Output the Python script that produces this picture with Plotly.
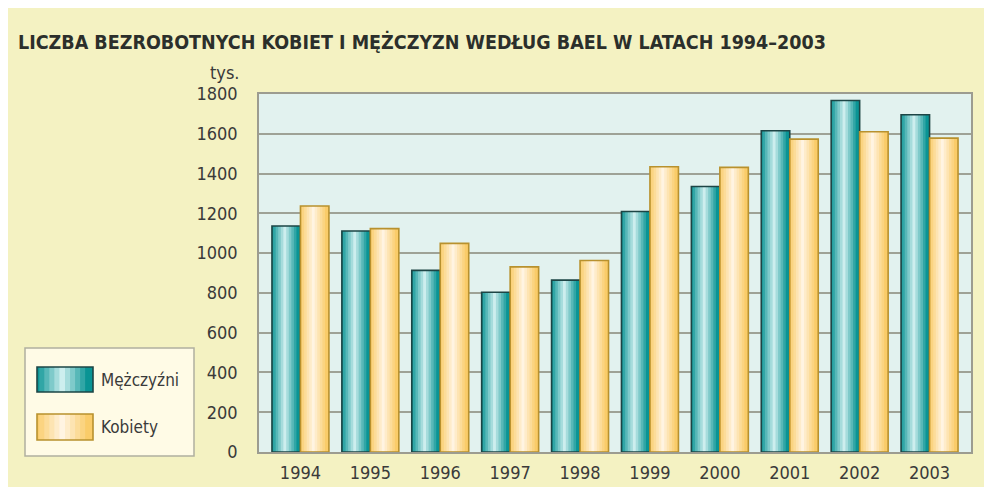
import plotly.graph_objects as go

years = ["1994", "1995", "1996", "1997", "1998", "1999", "2000", "2001", "2002", "2003"]
men = [1136, 1111, 913, 803, 864, 1209, 1335, 1615, 1767, 1696]
women = [1237, 1123, 1049, 931, 963, 1434, 1431, 1573, 1610, 1578]
series_names = ["Mężczyźni", "Kobiety"]
y_ticks = [0, 200, 400, 600, 800, 1000, 1200, 1400, 1600, 1800]

FONT = "DejaVu Sans Condensed, Liberation Sans Narrow, Arial Narrow, sans-serif"
OFF = 8  # page body margin
W, H = 992 - OFF, 487 - OFF
ML = 259 - OFF
MT = 94 - OFF
PW, PH = 712, 358
MR = W - ML - PW
MB = H - MT - PH

teal = dict(edge=(10, 148, 148), light=(205, 238, 238), line="#1d4545")
gold = dict(edge=(250, 204, 105), light=(255, 244, 226), line="#b8912e")


def mix(a, b, t):
    return "rgb(%d,%d,%d)" % tuple(round(a[i] + (b[i] - a[i]) * t) for i in range(3))


x_idx = list(range(len(years)))
BW = 0.4075
fig = go.Figure()

levels = [0.0, 0.2, 0.4, 0.6, 0.8, 1.0]
for vals, pal, off in [(men, teal, -BW), (women, gold, 0.0)]:
    for t in levels:
        frac = 1.0 - 0.9 * t
        w = BW * frac
        center = off + BW * 0.45
        o = center - w / 2
        o = max(off, min(o, off + BW - w))
        fig.add_trace(go.Bar(
            x=x_idx, y=vals, width=[w] * len(x_idx), offset=[o] * len(x_idx),
            marker=dict(color=mix(pal["edge"], pal["light"], t), line=dict(width=0)),
            hoverinfo="skip", showlegend=False))
    fig.add_trace(go.Bar(
        x=x_idx, y=vals, width=[BW] * len(x_idx), offset=[off] * len(x_idx),
        marker=dict(color="rgba(0,0,0,0)", line=dict(width=1.6, color=pal["line"])),
        hoverinfo="skip", showlegend=False))

fig.update_layout(
    width=W, height=H, autosize=False,
    margin=dict(l=ML, r=MR, t=MT, b=MB, pad=0, autoexpand=False),
    paper_bgcolor="#f4f2c2",
    plot_bgcolor="#e2f2ef",
    barmode="overlay",
    font=dict(family=FONT, color="#3a3a3a"),
    title=dict(
        text="<b>LICZBA BEZROBOTNYCH KOBIET I MĘŻCZYZN WEDŁUG BAEL W LATACH 1994–2003</b>",
        x=(18 - OFF) / W, xanchor="left", y=1 - (42 - OFF) / H, yanchor="middle",
        automargin=False,
        font=dict(family=FONT, size=19.5, color="#2b2f2b")),
    xaxis=dict(
        range=[-0.593, len(years) - 1 + 0.593], tickvals=x_idx, ticktext=years,
        showgrid=False, zeroline=False, showline=True, mirror=True, automargin=False,
        linecolor="#9c9c90", linewidth=1.5, ticks="", ticklabelstandoff=4,
        tickfont=dict(size=18, color="#3a3a3a")),
    yaxis=dict(
        range=[0, 1800], tickvals=y_ticks, showgrid=True, gridcolor="#9ea296",
        gridwidth=1.5, zeroline=False, showline=True, mirror=True, automargin=False,
        linecolor="#9c9c90", linewidth=1.5, ticks="", ticklabelstandoff=16,
        tickfont=dict(size=18, color="#3a3a3a")),
    showlegend=False,
)


def px(xr):
    return (xr - OFF - ML) / PW


def py(yr):
    return (MT + PH - (yr - OFF)) / PH


shapes = []
shapes.append(dict(type="rect", xref="paper", yref="paper", x0=px(25), x1=px(194),
                   y0=py(456), y1=py(348), fillcolor="#fffbe6",
                   line=dict(width=1.5, color="#b0b0a0")))
annotations = []
for name, pal, (ytop, ybot) in [(series_names[0], teal, (367, 392)), (series_names[1], gold, (414, 440))]:
    x0, x1 = 37, 93
    bw = x1 - x0
    for t in levels:
        frac = 1.0 - 0.9 * t
        w = bw * frac
        c = x0 + bw * 0.45
        a = max(x0, min(c - w / 2, x1 - w))
        shapes.append(dict(type="rect", xref="paper", yref="paper", x0=px(a), x1=px(a + w),
                           y0=py(ybot), y1=py(ytop), fillcolor=mix(pal["edge"], pal["light"], t),
                           line=dict(width=0)))
    shapes.append(dict(type="rect", xref="paper", yref="paper", x0=px(x0), x1=px(x1),
                       y0=py(ybot), y1=py(ytop), fillcolor="rgba(0,0,0,0)",
                       line=dict(width=1.6, color=pal["line"])))
    annotations.append(dict(xref="paper", yref="paper", x=px(99), y=py((ytop + ybot) / 2),
                            xanchor="left", yanchor="middle", text=name, showarrow=False,
                            font=dict(family=FONT, size=17, color="#3a3a3a")))

annotations.append(dict(xref="paper", yref="paper", x=px(242), y=py(73), xanchor="right",
                        yanchor="middle", text="tys.", showarrow=False,
                        font=dict(family=FONT, size=18, color="#3a3a3a")))

fig.update_layout(shapes=shapes, annotations=annotations)
fig.write_html("out.html")
